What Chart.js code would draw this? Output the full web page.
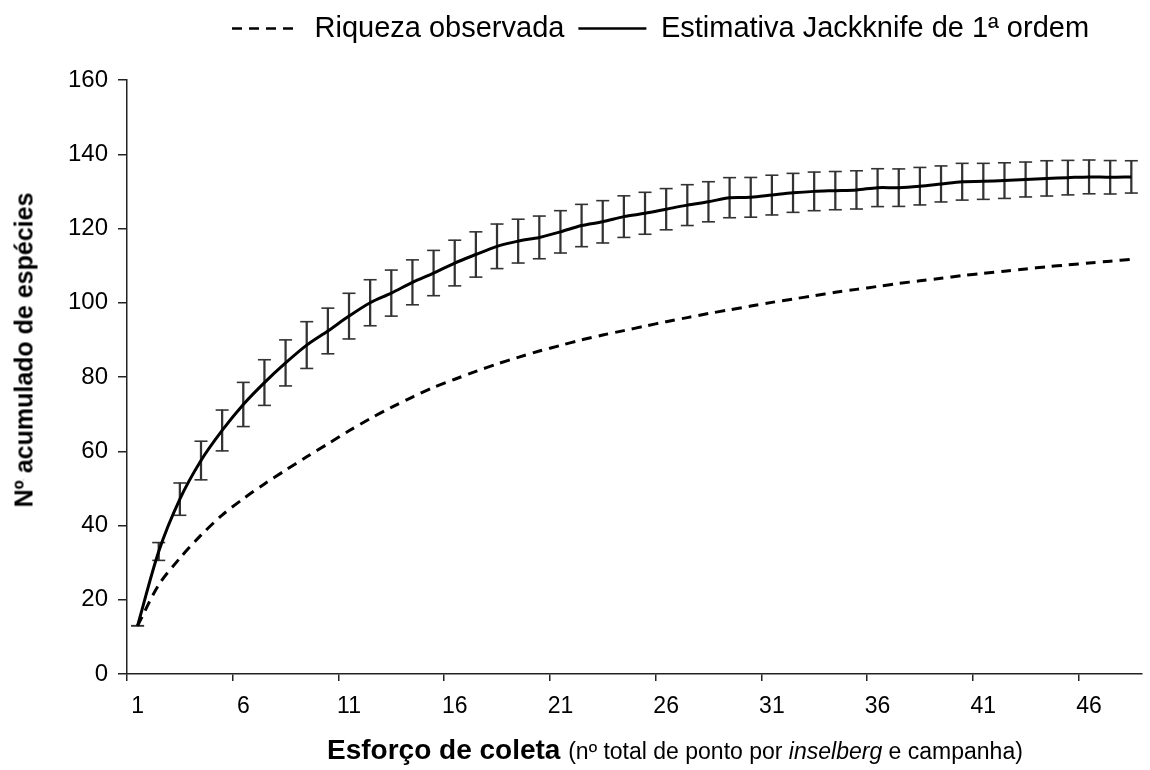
<!DOCTYPE html>
<html lang="pt">
<head>
<meta charset="utf-8">
<title>Curva de acumulação de espécies</title>
<script src="https://cdn.jsdelivr.net/npm/chart.js@4.4.1/dist/chart.umd.min.js"></script>
<style>
  html, body { margin: 0; padding: 0; background: #fff; }
  #wrap { position: relative; width: 1150px; height: 770px; font-family: 'Liberation Sans', Arial, sans-serif; color: #000; }
  #chart { position: absolute; left: 0; top: 0; }
  #yTitle {
    position: absolute; left: 24px; top: 350px;
    transform: translate(-50%, -50%) rotate(-90deg);
    font-weight: bold; font-size: 25px; line-height: 1; white-space: nowrap;
  }
  #yTitle u { text-decoration-thickness: 2px; text-underline-offset: -10px; }
  #xTitle { position: absolute; left: 327px; top: 736px; font-size: 28px; line-height: 1; white-space: nowrap; }
  #xTitle span { font-size: 23px; }
</style>
</head>
<body>
<div id="wrap">
  <canvas id="chart" width="1150" height="770"></canvas>
  <div id="yTitle">N<u>º</u> acumulado de espécies</div>
  <div id="xTitle"><b>Esforço de coleta</b> <span>(nº total de ponto por <i>inselberg</i> e campanha)</span></div>
</div>
<script>
  // esforço amostral (nº de pontos acumulados)
  const esforco = ['1', '2', '3', '4', '5', '6', '7', '8', '9', '10', '11', '12',
    '13', '14', '15', '16', '17', '18', '19', '20', '21', '22', '23', '24',
    '25', '26', '27', '28', '29', '30', '31', '32', '33', '34', '35', '36',
    '37', '38', '39', '40', '41', '42', '43', '44', '45', '46', '47', '48'];

  // riqueza observada (curva tracejada)
  const riqueza = [13, 24, 31.2, 37.4, 42.8, 47.2, 51.2, 54.9, 58.5, 62,
    65.5, 68.8, 71.8, 74.6, 77.2, 79.4, 81.5, 83.5, 85.3, 87,
    88.5, 90, 91.3, 92.5, 93.7, 94.9, 96, 97.1, 98.1, 99.1,
    100.1, 101, 101.9, 102.8, 103.6, 104.4, 105.2, 105.9, 106.6, 107.3,
    107.9, 108.5, 109.1, 109.7, 110.2, 110.7, 111.2, 111.7];

  // estimativa Jackknife 1 (média) e desvio padrão
  const jackknife = [13, 33.0, 47.1, 57.5, 65.6, 72.6, 78.5, 83.8, 88.6, 92.4,
    96.4, 100.0, 102.6, 105.5, 108.0, 110.7, 113.0, 115.2, 116.6, 117.6,
    119.1, 120.8, 121.8, 123.2, 124.1, 125.2, 126.3, 127.2, 128.3, 128.4,
    129.0, 129.6, 130.0, 130.2, 130.4, 131.0, 131.0, 131.4, 132.0, 132.6,
    132.7, 132.9, 133.2, 133.5, 133.7, 133.9, 133.8, 133.9];
  const desvio = [0, 2.4, 4.35, 5.2, 5.5, 5.95, 6.15, 6.2, 6.3, 6.15,
    6.15, 6.2, 6.2, 6.05, 6.1, 6.15, 6.1, 6.0, 5.9, 5.75,
    5.7, 5.7, 5.7, 5.6, 5.65, 5.55, 5.5, 5.4, 5.4, 5.35,
    5.35, 5.25, 5.2, 5.15, 5.15, 5.1, 5.05, 5.05, 4.85, 4.95,
    4.85, 4.8, 4.7, 4.75, 4.65, 4.55, 4.5, 4.35];

  const yMin = 0, yMax = 160, yStep = 20;
  const labelStep = 5;

  const limSup = jackknife.map((m, i) => m + desvio[i]);
  const limInf = jackknife.map((m, i) => m - desvio[i]);

  Chart.defaults.font.family = "'Liberation Sans', Arial, sans-serif";
  Chart.defaults.color = '#000';

  // move the legend a bit: starts over x=232 and sits near the top edge
  const legendNudge = {
    id: 'legendNudge',
    afterLayout(chart, args, opts) {
      const lg = chart.legend;
      if (!lg) return;
      const dx = opts.left - (lg.left + lg.options.labels.padding);
      lg.left += dx;
      lg.right += dx;
      lg.top += opts.dy;
      lg.bottom += opts.dy;
    }
  };

  const tickColor = c => (c.index % labelStep === 0 ? '#222' : 'rgba(0,0,0,0)');

  new Chart(document.getElementById('chart'), {
    type: 'line',
    data: {
      labels: esforco,
      datasets: [
        {
          label: 'Riqueza observada',
          data: riqueza,
          borderColor: '#000',
          borderWidth: 3,
          borderDash: [10, 7],
          pointRadius: 0,
          tension: 0.3,
          order: 0
        },
        {
          label: 'Estimativa Jackknife de 1ª ordem',
          data: jackknife,
          borderColor: '#000',
          borderWidth: 3,
          pointRadius: 0,
          tension: 0.3,
          order: 1
        },
        {
          label: 'limite superior',
          data: limSup,
          showLine: false,
          pointStyle: 'line',
          pointRadius: 6.5,
          pointBorderWidth: 1.6,
          pointBorderColor: '#333',
          order: 2
        },
        {
          label: 'limite inferior',
          data: limInf,
          showLine: false,
          pointStyle: 'line',
          pointRadius: 6.5,
          pointBorderWidth: 1.6,
          pointBorderColor: '#333',
          order: 2
        },
        {
          type: 'bar',
          label: 'desvio',
          data: jackknife.map((m, i) => [limInf[i], limSup[i]]),
          backgroundColor: '#333',
          borderWidth: 0,
          barThickness: 1.6,
          order: 3
        }
      ]
    },
    options: {
      responsive: false,
      animation: false,
      devicePixelRatio: 1,
      events: [],
      layout: { padding: { top: 27, right: 2, bottom: 0, left: 0 } },
      plugins: {
        tooltip: { enabled: false },
        legendNudge: { left: 232, dy: -27 },
        legend: {
          position: 'top',
          align: 'start',
          labels: {
            usePointStyle: true,
            pointStyleWidth: 68,
            padding: 14,
            color: '#000',
            font: { size: 29 },
            filter: item => item.datasetIndex < 2,
            generateLabels(chart) {
              const items = Chart.defaults.plugins.legend.labels.generateLabels(chart);
              items.forEach(it => {
                const ds = chart.data.datasets[it.datasetIndex];
                it.pointStyle = 'line';
                it.lineDash = ds.borderDash || [];
                it.lineWidth = 2.5;
                it.strokeStyle = ds.borderColor;
              });
              return items;
            }
          }
        }
      },
      scales: {
        x: {
          type: 'category',
          offset: true,
          grid: {
            offset: true,
            drawOnChartArea: false,
            tickLength: 7,
            lineWidth: 1.5,
            color: tickColor,
            tickColor: tickColor
          },
          border: { display: true, color: '#222', width: 1.5 },
          ticks: {
            autoSkip: false,
            maxRotation: 0,
            padding: 12,
            color: '#000',
            font: { size: 23 },
            callback(value, index) {
              return index % labelStep === 0 ? this.getLabelForValue(value) : '';
            }
          },
          afterFit(scale) { scale.height = 96; }
        },
        y: {
          min: yMin,
          max: yMax,
          grid: { drawOnChartArea: false, tickLength: 9, lineWidth: 1.5, color: '#222' },
          border: { display: true, color: '#222', width: 1.5 },
          ticks: { stepSize: yStep, padding: 10, color: '#000', font: { size: 24 } },
          afterFit(scale) { scale.width = 127; }
        }
      }
    },
    plugins: [legendNudge]
  });
</script>
</body>
</html>
